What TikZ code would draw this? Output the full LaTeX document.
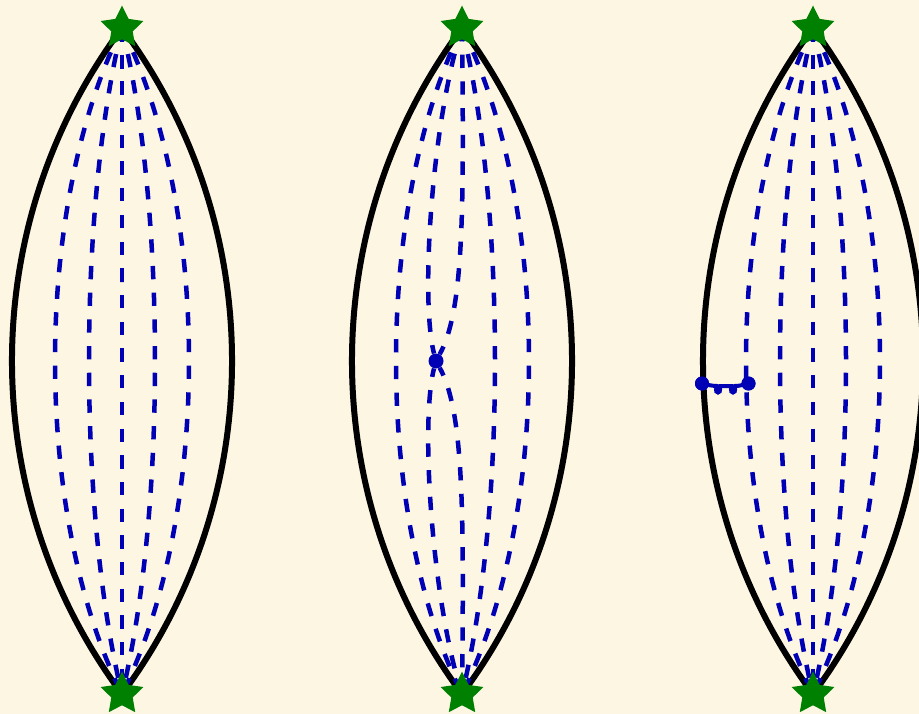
\documentclass[tikz,border=0pt]{standalone}
\usetikzlibrary{shapes.geometric}
\definecolor{bg}{HTML}{FDF6E3}
\definecolor{lblue}{HTML}{0000B4}
\definecolor{sgreen}{HTML}{008000}
\tikzset{
 lensline/.style={line width=6pt, draw=black},
 dline/.style={line width=4.5pt, draw=lblue, dash pattern=on 13.3pt off 13.4pt},
 vstar/.style={star, star points=5, star point ratio=2.0, fill=sgreen, minimum size=45pt, inner sep=0pt, draw=none},
 vdot/.style={circle, fill=lblue, minimum size=15pt, inner sep=0pt},
 sdot/.style={circle, fill=lblue, minimum size=14pt, inner sep=0pt},
 coilline/.style={line width=4pt, draw=lblue},
}
\begin{document}
\begin{tikzpicture}[x=1pt,y=-1pt]
\useasboundingbox (0,0) rectangle (919,714);
\fill[bg] (0,0) rectangle (919,714);
\clip (0,0) rectangle (919,714);
% vertices
\coordinate (t1) at (122,28);  \coordinate (b1) at (122,694);
\coordinate (t2) at (462,28);  \coordinate (b2) at (462,694);
\coordinate (t3) at (813,28);  \coordinate (b3) at (813,694);
% lens outlines
\foreach \i in {1,2,3}{
  \draw[lensline] (t\i) .. controls +(-146.7,197) and +(-146.7,-197) .. (b\i);
  \draw[lensline] (t\i) .. controls +(146.7,197) and +(146.7,-197) .. (b\i);
}
% left lens dashed lines
\foreach \d in {-89.3,-44,0,44,89.3}{
  \draw[dline] (t1) .. controls +(\d,180) and +(\d,-180) .. (b1);
}
% right lens dashed lines
\foreach \d in {-89.3,-44,0,44,89.3}{
  \draw[dline] (t3) .. controls +(\d,180) and +(\d,-180) .. (b3);
}
% middle lens
\node[vdot] (m) at (436,361) {};
\foreach \d in {-88,44,89.3}{
  \draw[dline] (t2) .. controls +(\d,180) and +(\d,-180) .. (b2);
}
\draw[dline] (t2) .. controls +(-30,92) and +(-16,-61) .. (m);
\draw[dline] (t2) .. controls +(2,182) and +(28,-51) .. (m);
\draw[dline] (b2) .. controls +(-30,-92) and +(-16,61) .. (m);
\draw[dline] (b2) .. controls +(2,-182) and +(28,51) .. (m);
% right lens coil
\node[sdot] (d1) at (702,383.5) {};
\node[sdot] (d2) at (748.5,383.5) {};
\draw[coilline] (d1.center) .. controls (708,385) and (713,386) .. (717,386)
  .. controls (721,386) and (721,392.5) .. (718,392.5)
  .. controls (715,392.5) and (715,386) .. (720,386)
  .. controls (725,386) and (728,386) .. (732,386)
  .. controls (736,386) and (736,392.5) .. (733,392.5)
  .. controls (730,392.5) and (730,386) .. (735,386)
  .. controls (740,386) and (744,384.5) .. (d2.center);
\node[sdot] at (d1) {};
\node[sdot] at (d2) {};
% stars
\foreach \i in {1,2,3}{
  \node[vstar] (st\i) at (t\i) {};
  \node[vstar] (sb\i) at (b\i) {};
}
\end{tikzpicture}
\end{document}
